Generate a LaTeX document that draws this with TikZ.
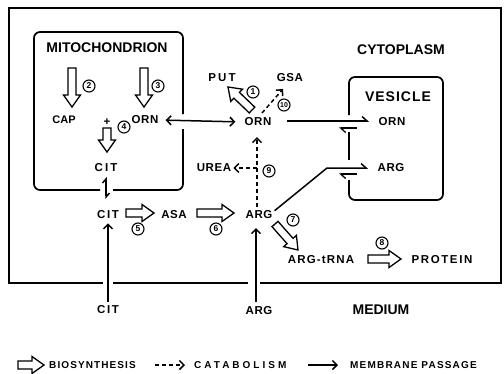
\documentclass[tikz,border=0pt]{standalone}
\usepackage{fontspec}
\setmainfont{Liberation Sans}
\usetikzlibrary{arrows.meta,calc}
\newcommand{\hollowarr}[2]{%
 \path ($(#2)!12pt!(#1)$) coordinate (hb);
 \draw[hollow] ($(#1)!4pt!90:(#2)$) -- ($(hb)!4pt!-90:(#1)$) -- ($(hb)!8.5pt!-90:(#1)$) -- (#2) -- ($(hb)!8.5pt!90:(#1)$) -- ($(hb)!4pt!90:(#1)$) -- ($(#1)!4pt!-90:(#2)$) -- cycle;}
\begin{document}
\begin{tikzpicture}[x=1pt,y=-1pt,
 lbl/.style={font=\fontsize{11.5}{13}\selectfont\bfseries\addfontfeature{LetterSpace=5}, inner sep=1pt},
 ttl/.style={font=\fontsize{14}{16}\selectfont\bfseries, inner sep=1pt},
 num/.style={circle, draw, line width=1.1pt, inner sep=0pt, minimum size=12pt, font=\fontsize{8.5}{8.5}\selectfont\bfseries},
 hollow/.style={draw, line width=1.3pt, line join=miter, fill=white},
 wall/.style={line width=1.7pt},
 mem/.style={-{Straight Barb[length=4.5pt,width=9pt]}, line width=1.5pt},
 cat/.style={mem, dash pattern=on 4pt off 3pt},
 harp/.style={-{Straight Barb[left,length=5pt,width=9pt]}, line width=1.5pt},
 leg/.style={font=\fontsize{10}{12}\selectfont\bfseries\addfontfeature{LetterSpace=11}, anchor=west, inner sep=0pt}]
\useasboundingbox (0,0) rectangle (504,373);
% membranes
\draw[wall] (260,283) -- (501,283) -- (501,8) -- (9,8) -- (9,283) -- (103,283);
\draw[wall] (113,283) -- (248,283);
\draw[wall, rounded corners=6pt] (113,190) -- (183,190) -- (183,129);
\draw[wall, rounded corners=6pt] (183,114) -- (183,32) -- (34,32) -- (34,190) -- (100,190);
\draw[wall, rounded corners=6pt] (349,180) -- (349,200) -- (443,200) -- (443,77) -- (349,77) -- (349,115);
\draw[wall] (349,132) -- (349,160);
% titles
\node[ttl] (tmito) at (107,48) {MITOCHONDRION};
\node[ttl] (tcyto) at (401,50) {CYTOPLASM};
\node[ttl, font=\fontsize{14}{16}\selectfont\bfseries\addfontfeature{LetterSpace=7}] (tves) at (398,97) {VESICLE};
\node[ttl] (tmed) at (381,310) {MEDIUM};
% labels
\node[lbl, font=\fontsize{11}{13}\selectfont\bfseries] (cap) at (64,120) {CAP};
\node[lbl] (plus) at (107,122) {+};
\node[lbl] (mORN) at (145,120) {ORN};
\node[lbl, font=\fontsize{11.5}{13}\selectfont\bfseries\addfontfeature{LetterSpace=18}] (mCIT) at (106,168) {CIT};
\node[lbl, font=\fontsize{11.5}{13}\selectfont\bfseries\addfontfeature{LetterSpace=14}] (cCIT) at (108,215) {CIT};
\node[lbl] (asa) at (174,215) {ASA};
\node[lbl] (cARG) at (259,215) {ARG};
\node[lbl] (cORN) at (258,122) {ORN};
\node[lbl, font=\fontsize{11.5}{13}\selectfont\bfseries\addfontfeature{LetterSpace=18}] (put) at (222,78) {PUT};
\node[lbl] (gsa) at (290,78) {GSA};
\node[lbl] (urea) at (214,168) {UREA};
\node[lbl] (vORN) at (392,122) {ORN};
\node[lbl] (vARG) at (391,168) {ARG};
\node[lbl, font=\fontsize{11.5}{13}\selectfont\bfseries\addfontfeature{LetterSpace=10}] (trna) at (321,260) {ARG-tRNA};
\node[lbl, font=\fontsize{11.5}{13}\selectfont\bfseries\addfontfeature{LetterSpace=14}] (protein) at (442,260) {PROTEIN};
\node[lbl, font=\fontsize{11.5}{13}\selectfont\bfseries\addfontfeature{LetterSpace=14}] (medCIT) at (108,310) {CIT};
\node[lbl] (medARG) at (259,311) {ARG};
% numbers
\node[num] (n1) at (253,92) {1};
\node[num] (n10) at (284,105) {\fontsize{7}{7}\selectfont 10};
\node[num] (n9) at (269,171) {9};
\node[num] (n2) at (89,86) {2};
\node[num] (n3) at (158,86) {3};
\node[num] (n4) at (124,127) {4};
\node[num] (n5) at (138,229) {5};
\node[num] (n6) at (216,229) {6};
\node[num] (n7) at (293,220) {7};
\node[num] (n8) at (382,243) {8};
% hollow (biosynthesis) arrows
\coordinate (a2s) at (72,68); \coordinate (a2e) at (72,107);
\coordinate (a3s) at (144,68); \coordinate (a3e) at (144,107);
\coordinate (a4s) at (107,128); \coordinate (a4e) at (107,152);
\coordinate (a1s) at (252,110); \coordinate (a1e) at (228,87);
\coordinate (a5s) at (126,213); \coordinate (a5e) at (154,213);
\coordinate (a6s) at (197,213); \coordinate (a6e) at (234,213);
\coordinate (a7s) at (275,224); \coordinate (a7e) at (298,250);
\coordinate (a8s) at (368,259); \coordinate (a8e) at (401,259);
\hollowarr{a2s}{a2e}
\hollowarr{a3s}{a3e}
\hollowarr{a4s}{a4e}
\hollowarr{a1s}{a1e}
\hollowarr{a5s}{a5e}
\hollowarr{a6s}{a6e}
\hollowarr{a7s}{a7e}
\hollowarr{a8s}{a8e}
% membrane passage
\draw[mem, {Straight Barb[length=4.5pt,width=9pt]}-{Straight Barb[length=4.5pt,width=9pt]}, shorten <=6pt, shorten >=8pt] (mORN.east) -- (cORN.west);
\draw[mem, shorten <=3pt, shorten >=3pt] (medCIT.north) -- (cCIT.south);
\coordinate (medARGt) at (256,302); \coordinate (cARGb) at (256,228);
\draw[mem] (medARGt) -- (cARGb);
% CIT mitochondrion <-> cytoplasm
\coordinate (zt) at (106,177); \coordinate (zb) at (106,199);
\draw[harp, {Straight Barb[left,length=4pt,width=7pt]}-{Straight Barb[left,length=4pt,width=7pt]}] (zb) -- (zt);
% vesicle exchange
\coordinate (ov1) at (287,121); \coordinate (ov2) at (369,121);
\draw[harp] (ov1) -- (ov2);
\coordinate (ob1) at (357,128); \coordinate (ob2) at (339,128);
\draw[harp, line width=1.3pt] (ob1) -- (ob2);
\coordinate (bend) at (327,168); \coordinate (av2) at (368,168);
\draw[harp] ($(cARG.north east)+(1,1)$) -- (bend) -- (av2);
\coordinate (ab1) at (357,174); \coordinate (ab2) at (339,174);
\draw[harp, line width=1.3pt] (ab1) -- (ab2);
% catabolism
\coordinate (dv1) at (257,207); \coordinate (dv2) at (257,137);
\draw[cat] (dv1) -- (dv2);
\coordinate (du) at (257,168);
\draw[cat, shorten >=1pt] (du) -- (urea.east);
\coordinate (dg1) at (262,113); \coordinate (dg2) at (283,89);
\draw[cat] (dg1) -- (dg2);
% legend
\coordinate (l1s) at (18,365); \coordinate (l1e) at (44,365);
\hollowarr{l1s}{l1e}
\node[leg] (lbio) at (49,365) {BIOSYNTHESIS};
\coordinate (l2s) at (155,365); \coordinate (l2e) at (185,365);
\draw[cat] (l2s) -- (l2e);
\node[leg, font=\fontsize{10}{12}\selectfont\bfseries\addfontfeature{LetterSpace=30}] (lcat) at (194,365) {CATABOLISM};
\coordinate (l3s) at (308,365); \coordinate (l3e) at (338,365);
\draw[mem] (l3s) -- (l3e);
\node[leg, font=\fontsize{10}{12}\selectfont\bfseries\addfontfeature{LetterSpace=12}] (lmem) at (350,365) {MEMBRANE PASSAGE};
\end{tikzpicture}
\end{document}
